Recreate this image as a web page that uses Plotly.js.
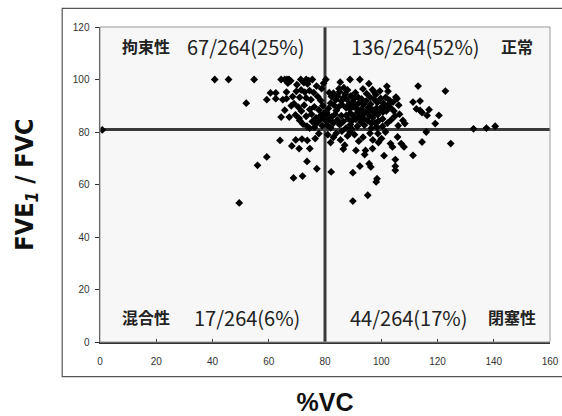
<!DOCTYPE html>
<html>
<head>
<meta charset="utf-8">
<script src="https://cdn.plot.ly/plotly-3.0.1.min.js"></script>
<style>html,body{margin:0;padding:0;background:#fff;}#chart{width:562px;height:416px;}</style>
</head>
<body>
<div id="chart"></div>
<script>
// %VC values and FEV1/FVC values (quadrant by quadrant)
var vcLowerLeft  = [0.8, 49.5, 56, 59.3, 64, 68.8, 72, 77.1, 73.6, 68.2, 70.8, 74.6, 69.6, 71.8, 73.7, 76.5, 77.8];
var fevLowerLeft = [80.8, 53, 67.3, 70.5, 76.8, 62.5, 63.2, 66, 68.8, 74.7, 73.7, 73.7, 77, 77.3, 76.8, 77.5, 79.4];

var vcLowerRight  = [82.2, 89.9, 89.9, 95.2, 98.2, 98.5, 92.4, 95.7, 96.3, 94.1, 94.4, 96.9, 98.8, 100.1, 103.3, 104, 105, 105, 105, 105.8, 107.1, 108.1, 111.3, 114.5, 116, 124.7,
                     82, 83, 85.5, 86.5, 87, 88, 89, 90.5, 92, 93.5, 96, 97, 101.5, 84, 86, 91, 101, 81, 99];
var fevLowerRight = [64.8, 64.5, 53.7, 55.9, 61, 62.2, 67, 67.9, 66.7, 71.4, 73, 73.7, 79.4, 77.5, 75.6, 74.3, 69.5, 67, 65.4, 78.1, 75.6, 74.3, 71.1, 76.2, 80, 75.6,
                     76, 78, 77, 73.5, 75, 78.5, 80, 79, 76.5, 78, 79.5, 77, 80, 79.5, 80.3, 73, 71, 79, 76];

var vcUpperLeft  = [40.8, 45.7, 54.8, 52, 59.3, 60.6, 62.5, 62.5, 65, 66.3, 64.4, 67.3, 65.7, 66.3,
                    64.4, 65.7, 66.5, 67.2, 67.8, 66.8, 71.4, 73.3, 74.2, 75.5, 72.5, 73.8,
                    69.8, 71.5, 72.8, 74.5, 76, 71, 73.3, 75, 77.4, 78.5,
                    69, 70.5, 72.6, 74.6, 76.2, 77.8, 79.2, 71.6, 68,
                    69.5, 70.8, 73.3, 75.2, 76.8, 78.4, 79.5,
                    72.2, 73.6, 75.5, 77, 78.2, 79, 76.2, 71, 74.5, 79.6,
                    68.5, 70, 77, 78.8, 79.5];
var fevUpperLeft = [100, 100, 100, 91, 92.3, 94.9, 94.9, 92.7, 92.3, 92.7, 85.7, 85.7, 88.3, 95.2,
                    100, 100, 100, 100, 99.5, 98.6, 100, 100, 99.6, 100, 98.8, 98.3,
                    95.5, 96, 95.2, 95.8, 95, 93.2, 93, 92.3, 93.5, 92,
                    90.8, 89.5, 90.2, 88.6, 89.6, 88.4, 90, 88, 90,
                    86.5, 85.2, 86, 86.8, 85.4, 86.2, 87.2,
                    83, 82.2, 84, 83.2, 84.5, 82.4, 81.8, 84.4, 81.5, 85,
                    93.5, 98, 97.5, 96.5, 98.6];

var vcUpperRight  = [80.3, 88.9, 92.4, 85.4, 86.7, 95.6, 96.9, 97.5, 113.1, 122.8, 111.3, 113.8, 112.5, 113.8, 114.5, 117, 116.3, 105.2, 105.6, 102.4, 104.5, 107.7, 108.4, 119.2, 120.5, 137.4, 140.5, 132.8,
                     81.5, 82.3, 83, 83.8, 84.5, 85.2, 85.8, 86.5, 87.2, 87.8, 88.5, 89.2, 89.8, 90.5, 91.2, 91.8, 82, 83.2, 84.8, 86, 87.5, 88.8, 90, 91.5, 92.3, 93, 93.8, 94.6, 95.4, 96.2, 97, 81.2, 85, 88, 90.8,
                     87.5, 88.3, 89, 89.6, 90.3, 91, 91.6, 92.2, 92.8, 93.4, 94, 94.6, 95.2, 95.8, 96.4, 97, 97.6, 98.2, 98.8, 99.4, 100, 100.6, 101.2, 101.8, 102.5, 103.2, 99, 96.5, 94, 91.5, 89, 93, 95.5, 97.8, 100.5,
                     80.6, 81.2, 81.8, 82.4, 83, 81, 82, 83.6, 84.4, 85.2, 85.8, 86.5, 84, 80.8,
                     93.5, 94.8, 96, 97.5, 98.6, 99.8, 100.8, 101.6, 103, 104.2, 106.2, 98, 99.5, 102, 106.5, 104.8, 103.5, 102.2, 100.5, 106, 98.5, 96.5, 87.5, 89.5];
var fevUpperRight = [100, 100, 100, 99, 96.9, 98.4, 96.1, 95.2, 97.5, 95.6, 91.4, 91.8, 88.8, 88.2, 87.4, 88.5, 86.3, 93.3, 92.7, 95.5, 88, 84.4, 83.2, 83.2, 86.3, 81.5, 82.2, 81.2,
                     95, 93.5, 94.8, 92.2, 93.6, 95.3, 91.8, 93, 94.5, 92.4, 90.6, 93.8, 91.5, 92.8, 90.2, 93.2, 91, 90.2, 89.5, 90.4, 89.2, 88.8, 89.6, 88.6, 91.2, 92.6, 90.5, 91.8, 89.2, 90.6, 88.4, 89, 96.5, 96, 95,
                     86.3, 85, 87.2, 84.2, 86, 84.8, 87.5, 85.6, 83.8, 86.6, 85, 87.8, 84.3, 86.2, 88.5, 85.5, 87.2, 89, 86.6, 88.2, 89.4, 87.6, 89, 88, 90.4, 89.3, 84.2, 83.2, 82.6, 82.2, 82.8, 88.8, 88, 83.5, 85,
                     87.5, 86.2, 84.6, 85.8, 83.4, 82.4, 81.6, 86.8, 84.6, 82.8, 86.2, 84, 88.2, 84,
                     96.4, 94.6, 93.2, 92.4, 91.2, 92.8, 91, 93.2, 92, 91.4, 90.2, 94.2, 95.6, 97.4, 86.8, 86, 84.6, 83.4, 82.2, 82.4, 81.8, 81.5, 81.5, 81.2];

var vcCut = 80;
var fevCut = 81;

var xTicks = [0, 20, 40, 60, 80, 100, 120, 140, 160];
var yTicks = [0, 20, 40, 60, 80, 100, 120];

var quadrantNames = ['拘束性', '正常', '混合性', '閉塞性'];
var quadrantCounts = ['67/264(25%)', '136/264(52%)', '17/264(6%)', '44/264(17%)'];

var allVC = vcLowerLeft.concat(vcLowerRight, vcUpperLeft, vcUpperRight);
var allFEV = fevLowerLeft.concat(fevLowerRight, fevUpperLeft, fevUpperRight);

var trace = {
  x: allVC, y: allFEV, type: 'scatter', mode: 'markers',
  marker: {symbol: 'diamond', size: 6, color: '#000'},
  hoverinfo: 'x+y', showlegend: false
};

var jpFont = {family: 'Noto Sans CJK JP, sans-serif', size: 16, color: '#222', weight: 'bold'};
var numFont = {family: 'Noto Sans CJK JP, Noto Sans, sans-serif', size: 20, color: '#222'};

function ann(x, y, text, font) {
  return {x: x, y: y, xref: 'x', yref: 'y', text: text, showarrow: false, font: font, xanchor: 'center', yanchor: 'middle'};
}

var layout = {
  width: 562, height: 416,
  margin: {l: 100, r: 12, t: 27, b: 74, pad: 0},
  paper_bgcolor: '#ffffff',
  plot_bgcolor: '#f7f7f7',
  xaxis: {
    range: [0, 160], tickvals: xTicks, ticktext: xTicks.map(String),
    ticks: 'inside', ticklen: 3, tickcolor: '#333', showgrid: false, zeroline: false,
    showline: true, linecolor: '#333', linewidth: 1.5,
    tickfont: {family: 'Liberation Sans, Arial, sans-serif', size: 10, color: '#333'},
    ticklabelstandoff: 9,
    title: {text: '<b>%VC</b>', font: {family: 'Liberation Sans, Arial, sans-serif', size: 25, color: '#111'}, standoff: 28}
  },
  yaxis: {
    range: [0, 120], tickvals: yTicks, ticktext: yTicks.map(String),
    ticks: 'outside', ticklen: 4, tickcolor: '#333', showgrid: false, zeroline: false,
    showline: true, linecolor: '#333', linewidth: 1.5,
    tickfont: {family: 'Liberation Sans, Arial, sans-serif', size: 10, color: '#333'},
    ticklabelstandoff: 3,
    title: {text: '<b>FVE<sub><i>1</i></sub> / FVC</b>', font: {family: 'Liberation Sans Narrow, DejaVu Sans Condensed, Liberation Sans, Arial, sans-serif', size: 25, color: '#111'}, standoff: 32}
  },
  shapes: [
    {type: 'rect', xref: 'paper', yref: 'paper', x0: -0.084, x1: 1.04, y0: -0.11, y1: 1.059, line: {color: '#555', width: 1.2}, fillcolor: 'rgba(0,0,0,0)', layer: 'below'},
    {type: 'rect', xref: 'paper', yref: 'paper', x0: 0, x1: 1, y0: 0, y1: 1, line: {color: '#999', width: 1}, fillcolor: 'rgba(0,0,0,0)'},
    {type: 'line', xref: 'x', yref: 'y', x0: 0, x1: 160, y0: fevCut, y1: fevCut, line: {color: '#3a3a3a', width: 3}, layer: 'below'},
    {type: 'line', xref: 'x', yref: 'y', x0: vcCut, x1: vcCut, y0: 0, y1: 120, line: {color: '#3a3a3a', width: 3}, layer: 'below'}
  ],
  annotations: [
    ann(16.2, 112.6, quadrantNames[0], jpFont),
    ann(51.8, 112.6, quadrantCounts[0], numFont),
    ann(112.3, 112.6, quadrantCounts[1], numFont),
    ann(148.2, 112.6, quadrantNames[1], jpFont),
    ann(16.2, 9.4, quadrantNames[2], jpFont),
    ann(52.2, 9.4, quadrantCounts[2], numFont),
    ann(109.8, 9.4, quadrantCounts[3], numFont),
    ann(146.5, 9.4, quadrantNames[3], jpFont)
  ]
};

Plotly.newPlot('chart', [trace], layout, {staticPlot: true, displayModeBar: false});
</script>
</body>
</html>
